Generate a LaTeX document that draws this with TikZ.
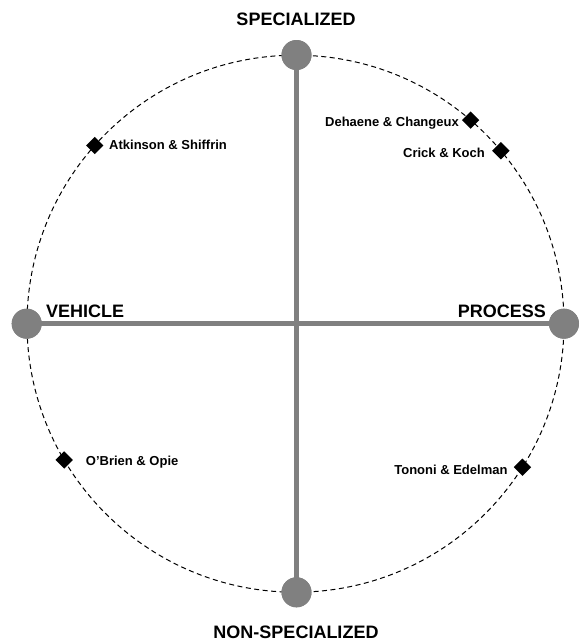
\documentclass[tikz,border=0pt]{standalone}
\usepackage{fontspec}
\setmainfont{Liberation Sans}
\usetikzlibrary{shapes.geometric}
\definecolor{axisgray}{RGB}{128,128,128}
\tikzset{
  pole/.style={circle, fill=axisgray, draw=none, minimum size=30pt, inner sep=0pt},
  axisline/.style={draw=axisgray, line width=5pt},
  rim/.style={draw=black, line width=1pt, dash pattern=on 5pt off 3.5pt},
  marker/.style={diamond, fill=black, draw=none, inner sep=0pt, minimum width=17.5pt, minimum height=17.5pt},
  title/.style={font=\bfseries\fontsize{18}{20}\selectfont, inner sep=0pt},
  author/.style={font=\bfseries\fontsize{13}{15}\selectfont, inner sep=0pt},
}
\begin{document}
\begin{tikzpicture}[x=1pt,y=-1pt]
\path[use as bounding box] (0,0) rectangle (583,641);
\coordinate (c) at (295.5,323.7);
\draw[rim] (c) circle [radius=268.5pt];
\node[pole] (top) at (296.5,55) {};
\node[pole] (bot) at (296.5,592.3) {};
\node[pole] (left) at (26.7,323.7) {};
\node[pole] (right) at (564,323.7) {};
\draw[axisline] (top.center) -- (bot.center);
\draw[axisline] (left.center) -- (right.center);
\node[pole] at (top.center) {};
\node[pole] at (bot.center) {};
\node[pole] at (left.center) {};
\node[pole] at (right.center) {};
\node[title, anchor=base] (spec) at (296,25) {SPECIALIZED};
\node[title, anchor=base] (nonspec) at (296,638) {NON-SPECIALIZED};
\node[title, anchor=base west] (veh) at (46,317.3) {VEHICLE};
\node[title, anchor=base east] (proc) at (546,317.3) {PROCESS};
\node[marker] (atk) at ([shift={(138.4:268.5pt)}]c) {};
\node[marker] (deh) at ([shift={(49.3:268.5pt)}]c) {};
\node[marker] (cri) at ([shift={(40.1:268.5pt)}]c) {};
\node[marker] (obr) at ([shift={(210.5:268.5pt)}]c) {};
\node[marker] (ton) at ([shift={(-32.3:268.5pt)}]c) {};
\node[author, anchor=base west] (atkl) at (109,149.5) {Atkinson \& Shiffrin};
\node[author, anchor=base east] (dehl) at (459,126) {Dehaene \& Changeux};
\node[author, anchor=base east] (cril) at (485,157.6) {Crick \& Koch};
\node[author, anchor=base west] (obrl) at (85.7,465.3) {O'Brien \& Opie};
\node[author, anchor=base east] (tonl) at (507.7,474.6) {Tononi \& Edelman};
\end{tikzpicture}
\end{document}
